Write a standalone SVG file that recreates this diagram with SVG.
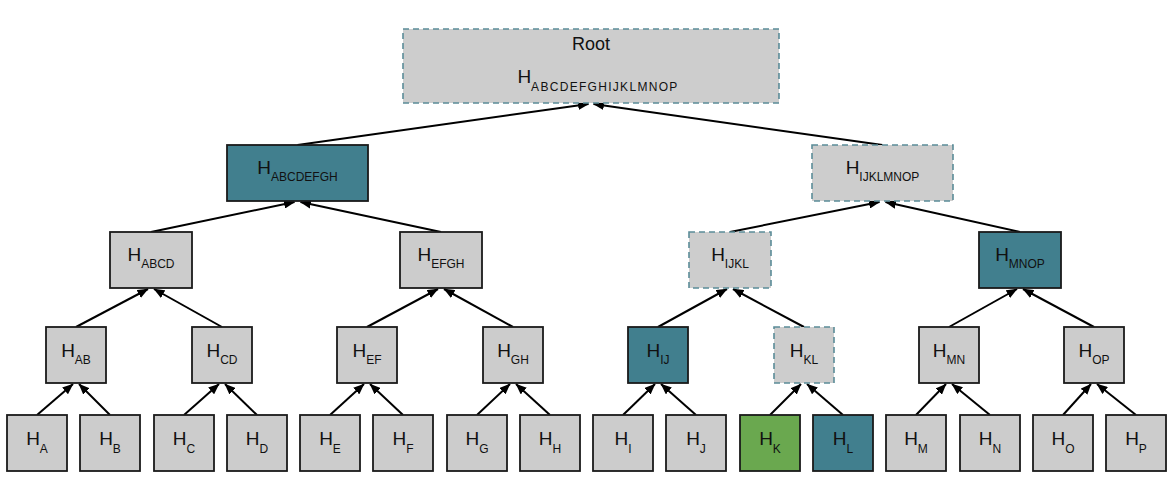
<svg xmlns="http://www.w3.org/2000/svg" width="1170" height="482" viewBox="0 0 1170 482">
<style>
.n{fill:#cccccc;stroke:#1a1a1a;stroke-width:1.8}
.t{fill:#417f8e;stroke:#1a1a1a;stroke-width:1.8}
.g{fill:#6aa84f;stroke:#1a1a1a;stroke-width:1.8}
.d{fill:#cdcdcd;stroke:#5b8c98;stroke-width:1.6;stroke-dasharray:6 4}
text{font-family:"Liberation Sans",Arial,sans-serif;font-size:19px;fill:#111;text-anchor:middle}
.s{font-size:12px}
.e line{stroke:#000;stroke-width:2;marker-end:url(#ah)}
</style>
<defs>
<marker id="ah" markerUnits="userSpaceOnUse" markerWidth="11" markerHeight="9" refX="10.5" refY="4.5" orient="auto">
<path d="M0,0 L11,4.5 L0,9 z" fill="#000"/>
</marker>
</defs>
<rect width="1170" height="482" fill="#fff"/>
<g id="connectors" class="e">
<line x1="37" y1="415" x2="73" y2="384"/>
<line x1="110" y1="415" x2="79" y2="384"/>
<line x1="184" y1="415" x2="219" y2="384"/>
<line x1="257" y1="415" x2="225" y2="384"/>
<line x1="330" y1="415" x2="364" y2="384"/>
<line x1="403" y1="415" x2="370" y2="384"/>
<line x1="477" y1="415" x2="510" y2="384"/>
<line x1="550" y1="415" x2="516" y2="384"/>
<line x1="623" y1="415" x2="655" y2="384"/>
<line x1="696" y1="415" x2="661" y2="384"/>
<line x1="770" y1="415" x2="801" y2="384"/>
<line x1="843" y1="415" x2="807" y2="384"/>
<line x1="916" y1="415" x2="946" y2="384"/>
<line x1="990" y1="415" x2="952" y2="384"/>
<line x1="1063" y1="415" x2="1091" y2="384"/>
<line x1="1136" y1="415" x2="1097" y2="384"/>
<line x1="76" y1="327" x2="148" y2="289"/>
<line x1="222" y1="327" x2="154" y2="289"/>
<line x1="367" y1="327" x2="438" y2="289"/>
<line x1="513" y1="327" x2="444" y2="289"/>
<line x1="658" y1="327" x2="727" y2="289"/>
<line x1="804" y1="327" x2="733" y2="289"/>
<line x1="949" y1="327" x2="1017" y2="289"/>
<line x1="1094" y1="327" x2="1023" y2="289"/>
<line x1="151" y1="232" x2="294.5" y2="202"/>
<line x1="441" y1="232" x2="300.5" y2="202"/>
<line x1="730" y1="232" x2="879.5" y2="202"/>
<line x1="1020" y1="232" x2="885.5" y2="202"/>
<line x1="297.5" y1="145" x2="588.5" y2="104"/>
<line x1="882.5" y1="145" x2="593.5" y2="104"/>
</g>
<g id="root"><rect class="d" x="403" y="29" width="376" height="74"/><text x="591" y="50" style="font-size:18px">Root</text><text x="598" y="83">H<tspan class="s" dy="7.5" letter-spacing="1.3">ABCDEFGHIJKLMNOP</tspan></text></g>
<g id="hABCDEFGH"><rect class="t" x="227" y="145" width="141" height="56"/><text x="297.5" y="174">H<tspan class="s" dy="7">ABCDEFGH</tspan></text></g>
<g id="hIJKLMNOP"><rect class="d" x="812" y="145" width="141" height="56"/><text x="882.5" y="174">H<tspan class="s" dy="7">IJKLMNOP</tspan></text></g>
<g id="hABCD"><rect class="n" x="110" y="232" width="82" height="56"/><text x="151" y="261">H<tspan class="s" dy="7">ABCD</tspan></text></g>
<g id="hEFGH"><rect class="n" x="400" y="232" width="82" height="56"/><text x="441" y="261">H<tspan class="s" dy="7">EFGH</tspan></text></g>
<g id="hIJKL"><rect class="d" x="689" y="232" width="82" height="56"/><text x="730" y="261">H<tspan class="s" dy="7">IJKL</tspan></text></g>
<g id="hMNOP"><rect class="t" x="979" y="232" width="82" height="56"/><text x="1020" y="261">H<tspan class="s" dy="7">MNOP</tspan></text></g>
<g id="hAB"><rect class="n" x="46" y="327" width="60" height="56"/><text x="76" y="357">H<tspan class="s" dy="7">AB</tspan></text></g>
<g id="hCD"><rect class="n" x="192" y="327" width="60" height="56"/><text x="222" y="357">H<tspan class="s" dy="7">CD</tspan></text></g>
<g id="hEF"><rect class="n" x="337" y="327" width="60" height="56"/><text x="367" y="357">H<tspan class="s" dy="7">EF</tspan></text></g>
<g id="hGH"><rect class="n" x="483" y="327" width="60" height="56"/><text x="513" y="357">H<tspan class="s" dy="7">GH</tspan></text></g>
<g id="hIJ"><rect class="t" x="628" y="327" width="60" height="56"/><text x="658" y="357">H<tspan class="s" dy="7">IJ</tspan></text></g>
<g id="hKL"><rect class="d" x="774" y="327" width="60" height="56"/><text x="804" y="357">H<tspan class="s" dy="7">KL</tspan></text></g>
<g id="hMN"><rect class="n" x="919" y="327" width="60" height="56"/><text x="949" y="357">H<tspan class="s" dy="7">MN</tspan></text></g>
<g id="hOP"><rect class="n" x="1064" y="327" width="60" height="56"/><text x="1094" y="357">H<tspan class="s" dy="7">OP</tspan></text></g>
<g id="hA"><rect class="n" x="7" y="415" width="60" height="56"/><text x="37" y="445">H<tspan class="s" dy="8">A</tspan></text></g>
<g id="hB"><rect class="n" x="80" y="415" width="60" height="56"/><text x="110" y="445">H<tspan class="s" dy="8">B</tspan></text></g>
<g id="hC"><rect class="n" x="154" y="415" width="60" height="56"/><text x="184" y="445">H<tspan class="s" dy="8">C</tspan></text></g>
<g id="hD"><rect class="n" x="227" y="415" width="60" height="56"/><text x="257" y="445">H<tspan class="s" dy="8">D</tspan></text></g>
<g id="hE"><rect class="n" x="300" y="415" width="60" height="56"/><text x="330" y="445">H<tspan class="s" dy="8">E</tspan></text></g>
<g id="hF"><rect class="n" x="373" y="415" width="60" height="56"/><text x="403" y="445">H<tspan class="s" dy="8">F</tspan></text></g>
<g id="hG"><rect class="n" x="447" y="415" width="60" height="56"/><text x="477" y="445">H<tspan class="s" dy="8">G</tspan></text></g>
<g id="hH"><rect class="n" x="520" y="415" width="60" height="56"/><text x="550" y="445">H<tspan class="s" dy="8">H</tspan></text></g>
<g id="hI"><rect class="n" x="593" y="415" width="60" height="56"/><text x="623" y="445">H<tspan class="s" dy="8">I</tspan></text></g>
<g id="hJ"><rect class="n" x="666" y="415" width="60" height="56"/><text x="696" y="445">H<tspan class="s" dy="8">J</tspan></text></g>
<g id="hK"><rect class="g" x="740" y="415" width="60" height="56"/><text x="770" y="445">H<tspan class="s" dy="8">K</tspan></text></g>
<g id="hL"><rect class="t" x="813" y="415" width="60" height="56"/><text x="843" y="445">H<tspan class="s" dy="8">L</tspan></text></g>
<g id="hM"><rect class="n" x="886" y="415" width="60" height="56"/><text x="916" y="445">H<tspan class="s" dy="8">M</tspan></text></g>
<g id="hN"><rect class="n" x="960" y="415" width="60" height="56"/><text x="990" y="445">H<tspan class="s" dy="8">N</tspan></text></g>
<g id="hO"><rect class="n" x="1033" y="415" width="60" height="56"/><text x="1063" y="445">H<tspan class="s" dy="8">O</tspan></text></g>
<g id="hP"><rect class="n" x="1106" y="415" width="60" height="56"/><text x="1136" y="445">H<tspan class="s" dy="8">P</tspan></text></g>
</svg>
